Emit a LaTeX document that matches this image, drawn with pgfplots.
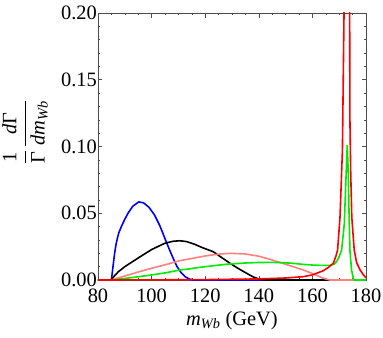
\documentclass[border=0pt]{standalone}
\usepackage{amsmath}
\usepackage{fontspec}
\setmainfont{Liberation Serif}
\usepackage{pgfplots}
\pgfplotsset{compat=1.18}
\definecolor{mmapink}{RGB}{255,128,128}
\definecolor{mmagreen}{RGB}{0,235,0}
\begin{document}
\begin{tikzpicture}
\begin{axis}[
  at={(0,0)}, anchor=south west,
  scale only axis, width=268bp, height=267bp,
  xmin=80, xmax=180, ymin=0, ymax=0.2,
  xtick={80,100,120,140,160,180},
  ytick={0,0.05,0.1,0.15,0.2},
  minor x tick num=3, minor y tick num=4,
  tick align=inside, major tick length=4.5bp, minor tick length=2.5bp,
  axis line style={black!70, line width=0.6bp},
  tick style={black!70, line width=0.5bp},
  scaled y ticks=false,
  /pgf/number format/assume math mode=true,
  every tick label/.append style={font=\fontsize{20.5}{24}\selectfont},
  yticklabel style={/pgf/number format/fixed, /pgf/number format/fixed zerofill,
    /pgf/number format/precision=2, inner xsep=1bp},
  xticklabel style={inner ysep=0pt, yshift=-9bp},
  xlabel={\textit{m}\textsubscript{\textit{Wb}} (GeV)},
  xlabel style={font=\fontsize{20.5}{24}\selectfont, at={(axis description cs:0.5,0)}, anchor=base, yshift=-45bp},
  ylabel={$\displaystyle\frac{\text{1}}{\text{Γ}}\,\frac{\text{\itshape d}\text{Γ}}{\text{\itshape dm}_{\text{\itshape Wb}}}$},
  ylabel style={font=\fontsize{20.5}{24}\selectfont, at={(axis description cs:-0.272,0.554)}, anchor=center},
  every axis plot/.append style={line width=1.6bp},
]
\addplot[blue] coordinates {
(80,0) (85,0) (85.3,0.005) (85.6,0.010) (86.2,0.020) (86.8,0.0275) (87.7,0.035)
(88.7,0.040) (90,0.0455) (91.2,0.050) (93,0.0553) (95.2,0.0585) (97,0.0578)
(99,0.0545) (101,0.0490) (103,0.0410) (105,0.0310) (106.5,0.0235) (108,0.0165)
(109.5,0.0100) (111,0.0055) (112.5,0.0025) (114,0.0008) (115.5,0) (180,0)};
\addplot[black] coordinates {
(80,0) (85,0) (86,0.0028) (87.5,0.0060) (90,0.0100) (95,0.0165) (100,0.0228)
(104.9,0.0275) (108,0.0290) (110.5,0.0294) (113,0.0288) (116,0.0268) (119,0.0242)
(123,0.0212) (126,0.0170) (129.3,0.0125) (132,0.0090) (135.5,0.0050) (138,0.0022)
(140.5,0.0005) (142,0) (180,0)};
\addplot[mmapink] coordinates {
(80,0) (85,0) (90,0.0030) (95,0.0060) (100,0.0088) (105,0.0114) (110.6,0.0145)
(113.6,0.0156) (120,0.0180) (125,0.0194) (129.3,0.0200) (135,0.0195) (140,0.0178)
(144.2,0.0155) (148,0.0130) (152,0.0105) (156.6,0.0075) (160,0.0048) (164.1,0.0013)
(166.5,0) (180,0)};
\addplot[mmagreen] coordinates {
(80,0) (85,0) (90,0.0012) (95,0.0024) (100,0.0038) (105,0.0053) (110.6,0.0075)
(113.6,0.0082) (118,0.0095) (123,0.0107) (128,0.0118) (135.5,0.0128) (140,0.0131)
(144,0.0132) (148,0.0131) (152,0.0126) (156.6,0.0117) (160,0.0112) (164,0.0109)
(166.5,0.0110) (168,0.0117) (169.1,0.0140) (170,0.0175) (170.9,0.0225) (171.9,0.042)
(172.6,0.080) (173,0.101) (173.4,0.080) (173.7,0.047) (174,0.0225) (174.6,0.0075)
(175.3,0.001) (175.6,0) (180,0)};
\addplot[red] coordinates {
(80,0) (100,0.0001) (120,0.0003) (140,0.0008) (150,0.0015) (156.6,0.0025) (160,0.0038)
(164.1,0.0070) (166,0.0095) (167.8,0.0125) (168.8,0.018) (169.4,0.0225) (170.3,0.047)
(171.2,0.097) (171.8,0.2) (172.3,0.45) (173,0.8) (173.6,0.45) (173.9,0.2) (174.0,0.12)
(174.3,0.08) (174.7,0.047) (175.6,0.0225) (176.5,0.013) (177.8,0.0075) (179,0.004)
(180,0.0015)};
\end{axis}
\pgfresetboundingbox
\path[use as bounding box] (-98bp,-58bp) rectangle (285bp,280bp);
\end{tikzpicture}
\end{document}
